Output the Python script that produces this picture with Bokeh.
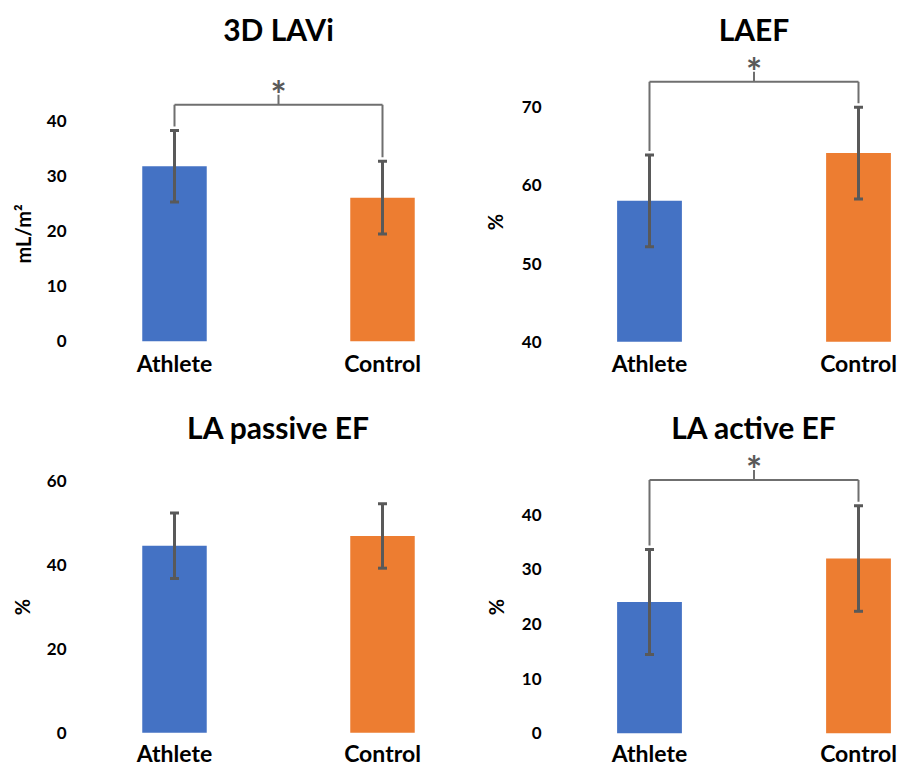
from bokeh.plotting import figure
from bokeh.layouts import column, row
from bokeh.models import FixedTicker, Range1d, Title
from bokeh.core.properties import value
from bokeh.embed import file_html
from bokeh.resources import INLINE

# ---- data -------------------------------------------------------------
groups = ["Athlete", "Control"]
bar_colors = ["#4472C4", "#ED7D31"]

titles = ["3D LAVi", "LAEF", "LA passive EF", "LA active EF"]
y_labels = ["mL/m²", "%", "%", "%"]
y_ticks = [[0, 10, 20, 30, 40], [40, 50, 60, 70], [0, 20, 40, 60], [0, 10, 20, 30, 40]]
y_base = [0, 40, 0, 0]

lavi_mean = [31.8, 26.1]
lavi_sd = [6.5, 6.6]
laef_mean = [58.0, 64.1]
laef_sd = [5.85, 5.85]
passive_mean = [44.5, 46.8]
passive_sd = [7.8, 7.65]
active_mean = [24.0, 31.95]
active_sd = [9.6, 9.65]

means = [lavi_mean, laef_mean, passive_mean, active_mean]
sds = [lavi_sd, laef_sd, passive_sd, active_sd]

# significance bracket level (None = no bracket)
bracket_level = [43.0, 73.2, None, 46.3]
sig_mark = ["*", "*", None, "*"]

# ---- layout (pixels) --------------------------------------------------
FONT = "Lato"
# w/h: figure size; left: frame left; cx: athlete centre; dx: group spacing;
# base_px: pixel row of the base value; ppu: pixels per unit;
# title_px / cat_px: text rows; ylab_*: y-label centre row, length and gap
layout = [
    dict(w=450, h=400, left=75, cx=174, dx=208, base_px=340.7, ppu=5.5,
         title_px=28, cat_px=362, ylab_px=233, ylab_len=60, ylab_so=16),
    dict(w=451, h=400, left=100, cx=199, dx=209, base_px=341.3, ppu=7.83,
         title_px=28, cat_px=362.5, ylab_px=221.7, ylab_len=16, ylab_so=22),
    dict(w=450, h=365, left=75, cx=174, dx=208, base_px=332.3, ppu=4.205,
         title_px=26.5, cat_px=352, ylab_px=206.7, ylab_len=16, ylab_so=17),
    dict(w=451, h=365, left=100, cx=199, dx=209, base_px=332.7, ppu=5.467,
         title_px=26, cat_px=352, ylab_px=206.7, ylab_len=16, ylab_so=20),
]


def make_panel(i):
    L = layout[i]
    base = y_base[i]
    ppu = L["ppu"]

    def ypix(px):
        return base + (L["base_px"] - px) / ppu

    def xpix(px):
        return (px - L["cx"]) / L["dx"]

    p = figure(width=L["w"], height=L["h"],
               x_range=Range1d(xpix(L["left"]), xpix(L["w"])),
               y_range=Range1d(ypix(L["h"]), ypix(0)),
               x_axis_location=None,
               output_backend="svg", toolbar_location=None,
               min_border_left=L["left"], min_border_right=0,
               min_border_top=0, min_border_bottom=0)
    p.outline_line_color = None
    p.grid.visible = False

    ax = p.yaxis[0]
    ax.ticker = FixedTicker(ticks=y_ticks[i])
    ax.axis_line_color = None
    ax.major_tick_line_color = None
    ax.minor_tick_line_color = None
    ax.major_tick_out = 0
    ax.major_tick_in = 0
    ax.major_label_standoff = 9
    ax.major_label_text_font = FONT
    ax.major_label_text_font_style = "bold"
    ax.major_label_text_font_size = "17px"
    ax.major_label_text_color = "#000000"

    # y-axis title beside the ticks, centred on the value part of the axis
    p.add_layout(Title(text=y_labels[i], align="left", vertical_align="middle",
                       offset=(L["h"] - L["ylab_px"]) - L["ylab_len"] / 2,
                       standoff=L["ylab_so"],
                       text_font=FONT, text_font_style="bold", text_font_size="20px",
                       text_color="#000000"), "left")

    xs = [0, 1]
    m = means[i]
    s = sds[i]

    # bars
    p.vbar(x=xs, top=m, bottom=base, width=0.31, fill_color=bar_colors, line_color=None)

    # error bars (mean ± SD)
    lo = [a - b for a, b in zip(m, s)]
    hi = [a + b for a, b in zip(m, s)]
    p.segment(x0=xs, y0=lo, x1=xs, y1=hi, line_color="#595959", line_width=3)
    p.scatter(x=xs + xs, y=lo + hi, marker="dash", size=9, line_color="#595959", line_width=3)

    # significance bracket
    if bracket_level[i] is not None:
        by = bracket_level[i]
        legs = [h + 4 / ppu for h in hi]
        bc = "#6f6f6f"
        p.segment(x0=[0, 0, 1, 0.5], y0=[by, by, by, by],
                  x1=[1, 0, 1, 0.5], y1=[by, legs[0], legs[1], by + 10 / ppu],
                  line_color=bc, line_width=2)
        p.text(x=[0.5], y=[by + 20 / ppu], text=[sig_mark[i]],
               text_font=value(FONT), text_font_style="bold", text_font_size="38px",
               text_color="#595959", text_align="center", text_baseline="middle",
               y_offset=9)

    # panel title
    p.text(x=[0.5], y=[ypix(L["title_px"])], text=[titles[i]],
           text_font=value(FONT), text_font_style="bold", text_font_size="30px",
           text_color="#000000", text_align="center", text_baseline="middle")

    # group labels under the bars
    p.text(x=xs, y=[ypix(L["cat_px"])] * 2, text=groups,
           text_font=value(FONT), text_font_style="bold", text_font_size="23px",
           text_color="#000000", text_align="center", text_baseline="middle")
    return p


panels = [make_panel(i) for i in range(4)]
page = column(row(panels[0], panels[1]), row(panels[2], panels[3]))

open("out.html", "w").write(file_html(page, INLINE))
